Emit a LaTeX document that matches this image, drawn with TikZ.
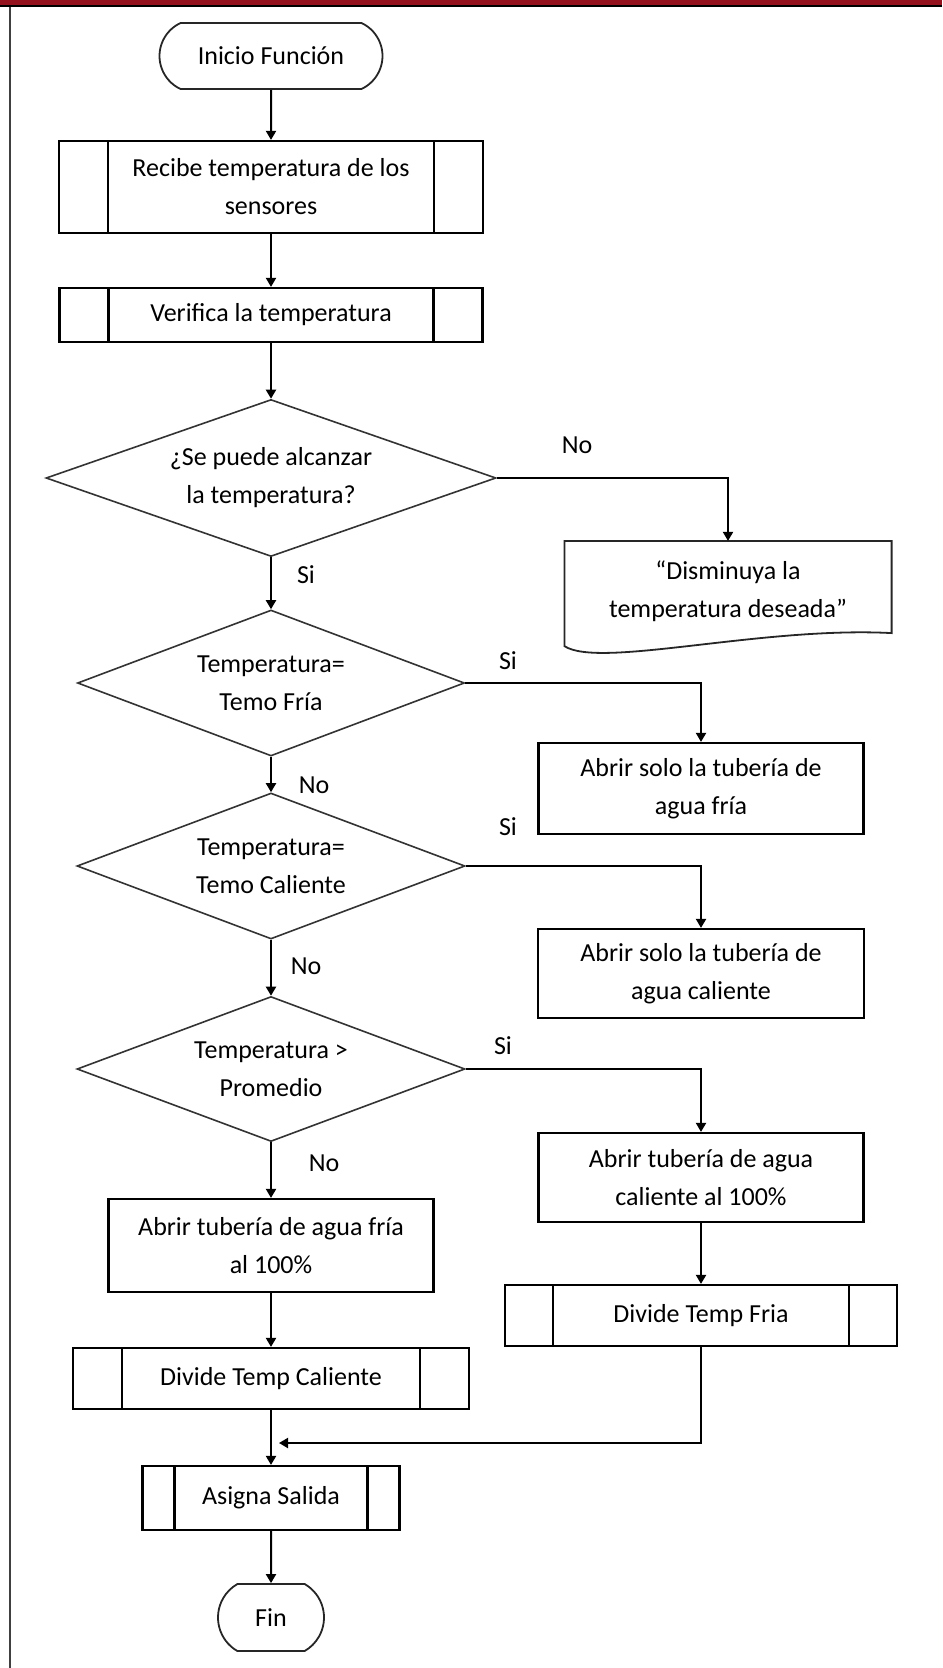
\documentclass[tikz,border=0pt]{standalone}
\usepackage{fontspec}
\setmainfont{Carlito}
\usetikzlibrary{shapes.geometric,shapes.misc,arrows.meta,calc}
\definecolor{barred}{RGB}{147,18,29}

\begin{document}
\begin{tikzpicture}[x=0.5pt,y=-0.5pt]
\tikzstyle{every node}=[font=\fontsize{13}{19}\selectfont]
\tikzstyle{box}=[rectangle,draw=black,line width=1.1pt,align=center,inner sep=0pt]
\tikzstyle{term}=[rounded rectangle,rounded rectangle arc length=130,draw=black!85,line width=0.9pt,inner sep=0pt]
\tikzstyle{decision}=[diamond,draw=black!80,line width=0.8pt,align=center,inner sep=0pt,aspect=2.65]
\tikzstyle{arr}=[line width=1pt,-{Triangle[width=5pt,length=4.5pt]}]
\tikzset{subproc/.style={box,path picture={
  \draw[line width=1.1pt] ([xshift=#1]path picture bounding box.north west) -- ([xshift=#1]path picture bounding box.south west);
  \draw[line width=1.1pt] ([xshift=-#1]path picture bounding box.north east) -- ([xshift=-#1]path picture bounding box.south east);}},
  subproc/.default=24.5pt}

\useasboundingbox (0,0) rectangle (942,1668);
\fill[barred] (0,0) rectangle (942,5.5);
\fill[black] (0,5.5) rectangle (942,7.5);
\draw[line width=1pt,black!75] (10,7.5) -- (10,1668);

\node[term,minimum width=111.5pt,minimum height=33pt] (start) at (271,56) {Inicio Función};
\node[subproc,minimum width=212pt,minimum height=46pt] (recibe) at (271,187) {Recibe temperatura de los\\sensores};
\node[subproc,minimum width=211.5pt,minimum height=27pt] (verifica) at (271,315) {Verifica la temperatura};
\node[decision,minimum width=225pt,minimum height=78.5pt] (alcanza) at (271,478) {¿Se puede alcanzar\\la temperatura?};
\node[box,draw=none,minimum width=162.5pt,minimum height=49pt] (disminuya) at (728,591) {“Disminuya la\\temperatura deseada”};
\draw[line width=0.9pt,draw=black!85] ($(disminuya.south west)+(0,5)$) -- (disminuya.north west) -- (disminuya.north east) -- ($(disminuya.south east)+(0,-8)$)
  .. controls ($(disminuya.south east)+(-130,-15)$) and ($(disminuya.south west)+(35,28)$) .. ($(disminuya.south west)+(0,5)$) -- cycle;
\node[decision,minimum width=193.5pt,minimum height=73pt] (fria) at (271,683) {Temperatura=\\Temo Fría};
\node[box,minimum width=162.5pt,minimum height=45.5pt] (abrefria) at (701,788.5) {Abrir solo la tubería de\\agua fría};
\node[decision,minimum width=194pt,minimum height=73pt] (caliente) at (271,866) {Temperatura=\\Temo Caliente};
\node[box,minimum width=163pt,minimum height=44.5pt] (abrecal) at (701,973.5) {Abrir solo la tubería de\\agua caliente};
\node[decision,minimum width=194pt,minimum height=72.5pt] (promedio) at (271,1069) {Temperatura >\\Promedio};
\node[box,minimum width=162.5pt,minimum height=44.5pt] (calcien) at (701,1177.5) {Abrir tubería de agua\\caliente al 100\%};
\node[subproc=24pt,minimum width=196pt,minimum height=30.5pt] (divfria) at (701,1315.5) {Divide Temp Fria};
\node[box,minimum width=162.5pt,minimum height=46.5pt] (friacien) at (271,1245.5) {Abrir tubería de agua fría\\al 100\%};
\node[subproc,minimum width=198pt,minimum height=30.5pt] (divcal) at (271,1378.5) {Divide Temp Caliente};
\node[subproc=16pt,minimum width=128.5pt,minimum height=32pt] (asigna) at (271,1498) {Asigna Salida};
\node[term,rounded rectangle arc length=120,minimum width=53pt,minimum height=33.5pt] (fin) at (271,1617.5) {Fin};
\coordinate (union) at (279,1443);

\node (no1) at (577,445) {No};
\node (si1) at (306,575) {Si};
\node (si2) at (508,661) {Si};
\node (no2) at (314,785) {No};
\node (si3) at (508,827) {Si};
\node (no3) at (306,966) {No};
\node (si4) at (503,1046) {Si};
\node (no4) at (324,1163) {No};

\draw[arr] (start) -- (recibe);
\draw[arr] (recibe) -- (verifica);
\draw[arr] (verifica) -- (alcanza);
\draw[arr] (alcanza.east) -| (disminuya.north);
\draw[arr] (alcanza.south) -- (fria.north);
\draw[arr] (fria.east) -| (abrefria.north);
\draw[arr] (fria.south) -- (caliente.north);
\draw[arr] (caliente.east) -| (abrecal.north);
\draw[arr] (caliente.south) -- (promedio.north);
\draw[arr] (promedio.east) -| (calcien.north);
\draw[arr] (promedio.south) -- (friacien.north);
\draw[arr] (calcien) -- (divfria);
\draw[arr] (friacien) -- (divcal);
\draw[arr] (divcal) -- (asigna);
\draw[arr] (divfria.south) |- (union);
\draw[arr] (asigna) -- (fin);
\end{tikzpicture}
\end{document}
